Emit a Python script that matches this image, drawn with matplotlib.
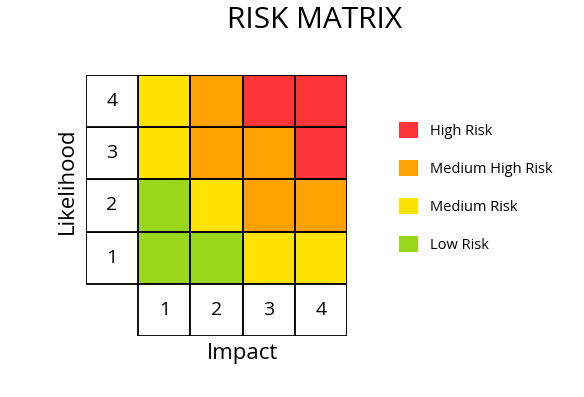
import numpy as np
import matplotlib.pyplot as plt
from matplotlib.colors import ListedColormap
from matplotlib.patches import Patch

# data
impact = [1, 2, 3, 4]
likelihood = [1, 2, 3, 4]
# risk level per cell, rows = likelihood 1..4, cols = impact 1..4
# 0 low, 1 medium, 2 medium high, 3 high
risk = np.array([
    [0, 0, 1, 1],
    [0, 1, 2, 2],
    [1, 2, 2, 3],
    [1, 2, 3, 3],
])
levels = ["Low Risk", "Medium Risk", "Medium High Risk", "High Risk"]
colors = ["#9AD61A", "#FFE300", "#FFA100", "#FF3437"]

plt.rcParams['font.family'] = ['Open Sans', 'DejaVu Sans']

W, H = 584, 397
fig = plt.figure(figsize=(W / 100, H / 100), dpi=100)

# grid covers label column/row + 4x4 cells
x0, x1, y0, y1 = 86, 347, 75, 336
ax = fig.add_axes([x0 / W, 1 - y1 / H, (x1 - x0) / W, (y1 - y0) / H])
ax.set_xlim(-1, 4)
ax.set_ylim(-1, 4)
ax.axis('off')

cmap = ListedColormap(colors)
xe = np.arange(0, 5)
ax.pcolormesh(xe, xe, risk, cmap=cmap, vmin=-0.5, vmax=3.5,
              edgecolors='black', linewidth=1.3)

# white label cells
for i, lab in enumerate(likelihood):
    ax.add_patch(plt.Rectangle((-1, i), 1, 1, facecolor='white',
                               edgecolor='black', linewidth=1.3))
    ax.text(-0.5, i + 0.5, str(lab), ha='center', va='center', fontsize=14)
for j, lab in enumerate(impact):
    ax.add_patch(plt.Rectangle((j, -1), 1, 1, facecolor='white',
                               edgecolor='black', linewidth=1.3))
    ax.text(j + 0.5, -0.5, str(lab), ha='center', va='center', fontsize=14)

fig.text(315 / W, 1 - 21 / H, "RISK MATRIX", ha='center', va='center', fontsize=21.5)
fig.text(243 / W, 1 - 353 / H, "Impact", ha='center', va='center', fontsize=16)
fig.text(67 / W, 1 - 181 / H, "Likelihood", ha='center', va='center',
         rotation=90, fontsize=16)

handles = [Patch(facecolor=colors[k], edgecolor='none', label=levels[k])
           for k in [3, 2, 1, 0]]
fig.legend(handles=handles, loc='upper left',
           bbox_to_anchor=(399 / W, 1 - 122 / H), frameon=False,
           fontsize=10.5, handlelength=1.3, handleheight=1.3,
           handletextpad=0.85, labelspacing=1.45, borderpad=0, borderaxespad=0)

fig.savefig('out.png', dpi=100)
